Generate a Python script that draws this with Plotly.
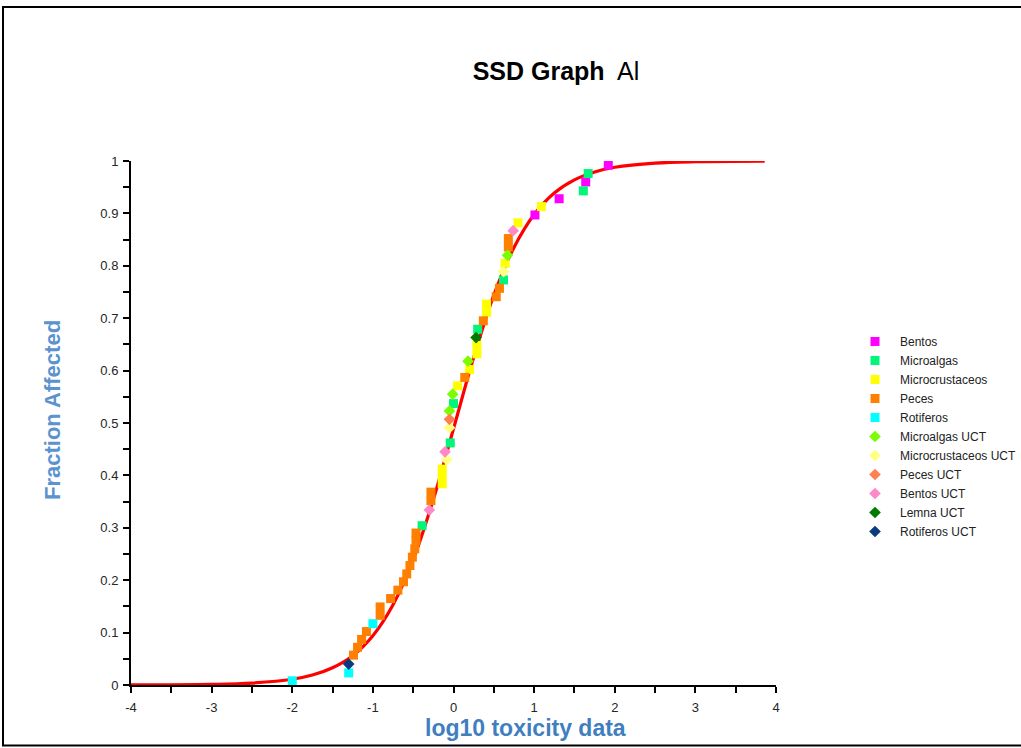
import plotly.graph_objects as go

# ---------------- data ----------------
curve_x = [-4, -3, -2.5, -2, -1.75, -1.5, -1.25, -1, -0.75, -0.5, -0.25, 0, 0.25,
           0.5, 0.75, 1, 1.25, 1.5, 1.75, 2, 2.5, 3, 3.86]
curve_y = [0.0001, 0.0012, 0.0037, 0.011, 0.019, 0.033, 0.056, 0.094, 0.153, 0.239,
           0.354, 0.489, 0.625, 0.744, 0.835, 0.898, 0.939, 0.964, 0.979, 0.988,
           0.996, 0.9987, 0.9998]

bentos_x = [1.01, 1.31, 1.64, 1.92]
bentos_y = [0.897, 0.928, 0.960, 0.992]

microalgas_x = [-0.39, -0.04, 0.0, 0.30, 0.62, 1.61, 1.67]
microalgas_y = [0.304, 0.462, 0.537, 0.679, 0.773, 0.943, 0.976]

microcrust_x = [-0.14, -0.14, -0.14, 0.05, 0.20, 0.29, 0.29, 0.41, 0.41, 0.64, 0.80, 1.09]
microcrust_y = [0.384, 0.398, 0.412, 0.571, 0.602, 0.632, 0.648, 0.711, 0.727, 0.805, 0.882, 0.913]

peces_x = [-1.24, -1.19, -1.14, -1.08, -0.91, -0.91, -0.78, -0.69, -0.62, -0.58, -0.54,
           -0.51, -0.48, -0.465, -0.465, -0.28, -0.28, 0.14, 0.37, 0.53, 0.57, 0.68, 0.68]
peces_y = [0.057, 0.072, 0.087, 0.102, 0.133, 0.149, 0.165, 0.181, 0.197, 0.212, 0.228,
           0.244, 0.260, 0.276, 0.290, 0.352, 0.368, 0.587, 0.695, 0.741, 0.757, 0.836, 0.852]

rotiferos_x = [-2.0, -1.30, -1.00]
rotiferos_y = [0.008, 0.023, 0.117]

microalgas_uct_x = [-0.05, -0.01, 0.18, 0.67]
microalgas_uct_y = [0.523, 0.555, 0.618, 0.820]

microcrust_uct_x = [-0.085, -0.05, 0.62]
microcrust_uct_y = [0.430, 0.491, 0.789]

peces_uct_x = [-0.05]
peces_uct_y = [0.507]

bentos_uct_x = [-0.30, -0.105, 0.74]
bentos_uct_y = [0.334, 0.445, 0.867]

lemna_uct_x = [0.28]
lemna_uct_y = [0.663]

rotiferos_uct_x = [-1.30]
rotiferos_uct_y = [0.040]

x_tickvals = [-4, -3, -2, -1, 0, 1, 2, 3, 4]
x_ticktext = ["-4", "-3", "-2", "-1", "0", "1", "2", "3", "4"]
y_tickvals = [0, 0.1, 0.2, 0.3, 0.4, 0.5, 0.6, 0.7, 0.8, 0.9, 1]
y_ticktext = ["0", "0.1", "0.2", "0.3", "0.4", "0.5", "0.6", "0.7", "0.8", "0.9", "1"]

# ---------------- figure ----------------
fig = go.Figure()

fig.add_trace(go.Scatter(x=curve_x, y=curve_y, mode="lines",
                         line=dict(color="#FF0000", width=3.2, shape="spline"),
                         showlegend=False, hoverinfo="skip"))

square_series = [
    ("Bentos", bentos_x, bentos_y, "#FF00FF"),
    ("Microalgas", microalgas_x, microalgas_y, "#00F57A"),
    ("Microcrustaceos", microcrust_x, microcrust_y, "#FFFF00"),
    ("Peces", peces_x, peces_y, "#FF8000"),
    ("Rotiferos", rotiferos_x, rotiferos_y, "#00FFFF"),
]
diamond_series = [
    ("Microalgas UCT", microalgas_uct_x, microalgas_uct_y, "#7CFC00"),
    ("Microcrustaceos UCT", microcrust_uct_x, microcrust_uct_y, "#FFFF80"),
    ("Peces UCT", peces_uct_x, peces_uct_y, "#FF7F50"),
    ("Bentos UCT", bentos_uct_x, bentos_uct_y, "#FF88C8"),
    ("Lemna UCT", lemna_uct_x, lemna_uct_y, "#007A00"),
    ("Rotiferos UCT", rotiferos_uct_x, rotiferos_uct_y, "#0B3B7E"),
]
for name, xs, ys, col in square_series:
    fig.add_trace(go.Scatter(x=xs, y=ys, mode="markers", name=name,
                             marker=dict(symbol="square", size=9, color=col,
                                         line=dict(width=0))))
for name, xs, ys, col in diamond_series:
    fig.add_trace(go.Scatter(x=xs, y=ys, mode="markers", name=name,
                             marker=dict(symbol="diamond", size=9, color=col,
                                         line=dict(width=0))))

tick_font = dict(family="Liberation Sans, Arial, sans-serif", size=13, color="#262626")

fig.update_layout(
    width=1021, height=748, autosize=False,
    margin=dict(l=131, r=245, t=161, b=63),
    paper_bgcolor="white", plot_bgcolor="white",
    title=dict(text="<b>SSD Graph</b>  Al", xref="container", yref="container",
               x=556 / 1021, xanchor="center", y=1 - 71 / 748, yanchor="middle",
               font=dict(family="Liberation Sans, Arial, sans-serif", size=25, color="black")),
    legend=dict(xref="container", yref="container",
                x=850 / 1021, xanchor="left", y=1 - 327 / 748, yanchor="top",
                itemwidth=40,
                font=dict(family="Liberation Sans, Arial, sans-serif", size=12, color="#222222"),
                bgcolor="rgba(0,0,0,0)", tracegroupgap=0),
    xaxis=dict(range=[-4, 4], showgrid=False, zeroline=False,
               showline=True, linecolor="black", linewidth=2,
               ticks="outside", ticklen=6, tickwidth=2, tickcolor="black",
               ticklabelstandoff=3,
               tickvals=x_tickvals, ticktext=x_ticktext, tickfont=tick_font,
               minor=dict(dtick=0.5, ticks="outside", ticklen=6, tickwidth=2,
                          tickcolor="black", showgrid=False)),
    yaxis=dict(range=[0, 1], showgrid=False, zeroline=False,
               showline=True, linecolor="black", linewidth=2,
               ticks="outside", ticklen=6, tickwidth=2, tickcolor="black",
               ticklabelstandoff=2,
               tickvals=y_tickvals, ticktext=y_ticktext, tickfont=tick_font,
               minor=dict(dtick=0.05, ticks="outside", ticklen=6, tickwidth=2,
                          tickcolor="black", showgrid=False)),
    annotations=[
        dict(text="<b>log10 toxicity data</b>", xref="paper", yref="paper",
             x=(525 - 131) / 645, y=(685 - 728) / 524, xanchor="center", yanchor="middle",
             showarrow=False,
             font=dict(family="Liberation Sans, Arial, sans-serif", size=23, color="#3F7FBF")),
        dict(text="<b>Fraction Affected</b>", xref="paper", yref="paper",
             x=(52 - 131) / 645, y=(685 - 410) / 524, xanchor="center", yanchor="middle",
             textangle=-90, showarrow=False,
             font=dict(family="Liberation Sans, Arial, sans-serif", size=22, color="#5B93CF")),
    ],
    shapes=[
        dict(type="rect", xref="paper", yref="paper",
             x0=(3 - 131) / 645, x1=(1040 - 131) / 645,
             y0=(685 - 745.5) / 524, y1=(685 - 7) / 524,
             line=dict(color="black", width=2), fillcolor="rgba(0,0,0,0)", layer="above"),
    ],
)

# remove the browser's default 8px body margin so the figure sits at the page origin
fig.write_html("out.html",
               config={"displayModeBar": False, "responsive": False},
               post_script="document.body.style.margin='0';document.body.style.overflow='hidden';")
